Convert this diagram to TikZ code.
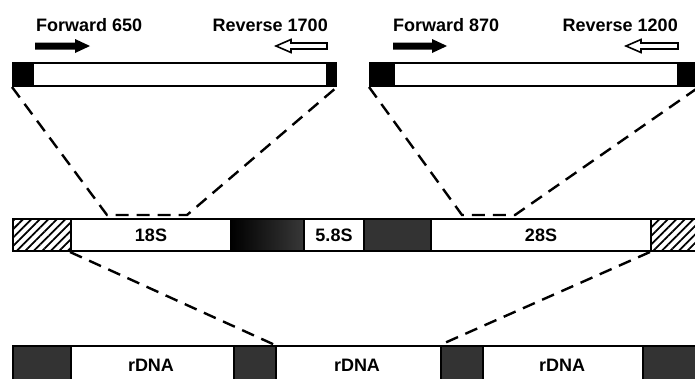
\documentclass[tikz,border=0pt]{standalone}
\usepackage{fontspec}
\setmainfont{Liberation Sans}
\usetikzlibrary{patterns.meta}
\begin{document}
\begin{tikzpicture}[x=1pt,y=-1pt,
  seg/.style={draw=black, line width=2pt, inner sep=0pt, anchor=north west, font=\bfseries\fontsize{18}{21}\selectfont},
  blk/.style={seg, fill=black},
  wht/.style={seg, fill=white},
  dark/.style={seg, fill=black!80},
  hatch/.style={seg, fill=white, pattern={Lines[angle=45,distance=6pt,line width=1.8pt]}},
  grad/.style={seg, left color=black, right color=black!78},
  lbl/.style={font=\bfseries\fontsize{18}{21}\selectfont, inner sep=0pt},
  dsh/.style={draw=black, line width=2.4pt, dash pattern=on 13pt off 8pt},
  fwd/.style={fill=black},
  rev/.style={draw=black, fill=white, line width=1.6pt}
]
\useasboundingbox (0,0) rectangle (695,378);

% top left bar
\node[blk, minimum width=20pt, minimum height=23pt] (tl1) at (12,62) {};
\node[wht, minimum width=294pt, minimum height=23pt] (tl2) at (32,62) {};
\node[blk, minimum width=9pt, minimum height=23pt] (tl3) at (326,62) {};
% top right bar
\node[blk, minimum width=24pt, minimum height=23pt] (tr1) at (369,62) {};
\node[wht, minimum width=284pt, minimum height=23pt] (tr2) at (393,62) {};
\node[blk, minimum width=20pt, minimum height=23pt] (tr3) at (677,62) {};

% labels
\node[lbl, anchor=west] (f1) at (36,25) {Forward 650};
\node[lbl, anchor=east] (r1) at (328,25) {Reverse 1700};
\node[lbl, anchor=west] (f2) at (393,25) {Forward 870};
\node[lbl, anchor=east] (r2) at (678,25) {Reverse 1200};

% primer arrows
\fill[fwd] (35,42.5) -- (75,42.5) -- (75,39) -- (90,46) -- (75,53) -- (75,49.5) -- (35,49.5) -- cycle;
\draw[rev] (327,43) -- (291,43) -- (291,39.5) -- (276,46) -- (291,52.5) -- (291,49) -- (327,49) -- cycle;
\fill[fwd] (393,42.5) -- (432,42.5) -- (432,39) -- (447,46) -- (432,53) -- (432,49.5) -- (393,49.5) -- cycle;
\draw[rev] (678,43) -- (641,43) -- (641,39.5) -- (626,46) -- (641,52.5) -- (641,49) -- (678,49) -- cycle;

% middle row
\node[hatch, minimum width=58pt, minimum height=32pt] (m1) at (12,218) {};
\node[wht, minimum width=160pt, minimum height=32pt] (m2) at (70,218) {18S};
\node[grad, minimum width=73pt, minimum height=32pt] (m3) at (230,218) {};
\node[wht, minimum width=60pt, minimum height=32pt] (m4) at (303,218) {5.8S};
\node[dark, minimum width=67pt, minimum height=32pt] (m5) at (363,218) {};
\node[wht, minimum width=220pt, minimum height=32pt] (m6) at (430,218) {28S};
\node[hatch, minimum width=47pt, minimum height=32pt] (m7) at (650,218) {};

% bottom row
\node[dark, minimum width=58pt, minimum height=36pt] (b1) at (12,345) {};
\node[wht, minimum width=163pt, minimum height=36pt] (b2) at (70,345) {};
\node[dark, minimum width=42pt, minimum height=36pt] (b3) at (233,345) {};
\node[wht, minimum width=165pt, minimum height=36pt] (b4) at (275,345) {};
\node[dark, minimum width=42pt, minimum height=36pt] (b5) at (440,345) {};
\node[wht, minimum width=160pt, minimum height=36pt] (b6) at (482,345) {};
\node[dark, minimum width=55pt, minimum height=36pt] (b7) at (642,345) {};
\node[lbl] (t2) at (151,365) {rDNA};
\node[lbl] (t4) at (357,365) {rDNA};
\node[lbl] (t6) at (562,365) {rDNA};

% dashed connectors
\coordinate (k1) at (107,215);
\coordinate (k2) at (187,215);
\coordinate (k3) at (462,215);
\coordinate (k4) at (515,215);
\draw[dsh] (tl1.south west) -- (k1) -- (k2) -- (tl3.south east);
\draw[dsh] (tr1.south west) -- (k3) -- (k4) -- (tr3.south east);
\draw[dsh] (m2.south west) -- (b4.north west);
\draw[dsh] (m7.south west) -- (b5.north west);
\end{tikzpicture}
\end{document}
